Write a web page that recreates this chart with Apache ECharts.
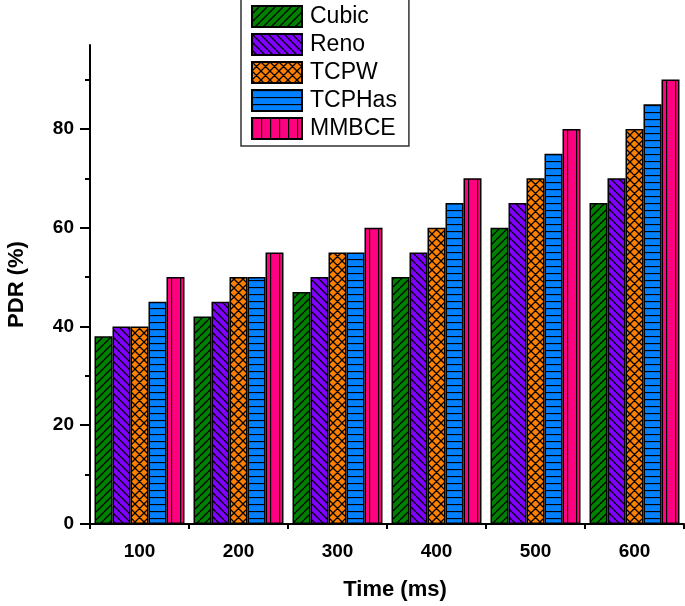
<!DOCTYPE html>
<html>
<head>
<meta charset="utf-8">
<script src="https://cdn.jsdelivr.net/npm/echarts@6/dist/echarts.min.js"></script>
<style>html,body{margin:0;padding:0;background:#fff}#c{width:685px;height:606px}</style>
</head>
<body>
<div id="c"></div>
<script>
const categories = ['100', '200', '300', '400', '500', '600'];
const seriesNames = ['Cubic', 'Reno', 'TCPW', 'TCPHas', 'MMBCE'];
const cubic  = [38, 42, 47, 50, 60, 65];
const reno   = [40, 45, 50, 55, 65, 70];
const tcpw   = [40, 50, 55, 60, 70, 80];
const tcphas = [45, 50, 55, 65, 75, 85];
const mmbce  = [50, 55, 60, 70, 80, 90];
const yTickLabels = [0, 20, 40, 60, 80];
const yMinorTicks = [10, 30, 50, 70, 90];

function pattern(bg, kind) {
  const s = kind === 'h' ? 7 : (kind === 'v' ? 9 : (kind === 'x' ? 9 : 8));
  const c = document.createElement('canvas');
  c.width = s; c.height = s;
  const g = c.getContext('2d');
  g.fillStyle = bg; g.fillRect(0, 0, s, s);
  g.strokeStyle = '#000'; g.lineWidth = 1.3;
  g.beginPath();
  if (kind === 'fwd' || kind === 'x') {
    for (const k of [-s, 0, s]) { g.moveTo(k, s); g.lineTo(k + s, 0); }
  }
  if (kind === 'back' || kind === 'x') {
    for (const k of [-s, 0, s]) { g.moveTo(k, 0); g.lineTo(k + s, s); }
  }
  if (kind === 'h') { g.moveTo(0, 0.5); g.lineTo(s, 0.5); }
  if (kind === 'v') { g.moveTo(0.5, 0); g.lineTo(0.5, s); }
  g.stroke();
  return { image: c, repeat: 'repeat' };
}

const fills = [
  pattern('#008000', 'fwd'),
  pattern('#8000FF', 'back'),
  pattern('#FF8000', 'x'),
  pattern('#0080FF', 'h'),
  pattern('#FF0080', 'v')
];
const values = [cubic, reno, tcpw, tcphas, mmbce];
const font = 'Arial, "Liberation Sans", sans-serif';

const chart = echarts.init(document.getElementById('c'), null, { renderer: 'canvas' });
chart.setOption({
  animation: false,
  backgroundColor: '#fff',
  grid: { left: 90, right: 1, top: 45, bottom: 82, containLabel: false, outerBoundsMode: 'none' },
  legend: {
    orient: 'vertical',
    left: 241, top: -2,
    padding: [7, 12, 6, 10],
    icon: 'rect',
    itemWidth: 50, itemHeight: 21, itemGap: 5,
    borderColor: '#333', borderWidth: 1.5,
    backgroundColor: '#fff',
    textStyle: { fontFamily: font, fontSize: 23, lineHeight: 21, color: '#000', padding: [0, 0, 0, 3] },
    data: seriesNames
  },
  xAxis: [{
    type: 'category', data: categories, position: 'bottom',
    name: 'Time (ms)', nameLocation: 'middle', nameGap: 55,
    nameTextStyle: { fontFamily: font, fontSize: 22, fontWeight: 'bold', color: '#000', padding: [0, 0, 0, 16] },
    axisLine: { lineStyle: { color: '#000', width: 2 } },
    axisTick: { alignWithLabel: true, length: 10, lineStyle: { color: '#000', width: 2 } },
    axisLabel: { fontFamily: font, fontSize: 19, fontWeight: 'bold', color: '#000', margin: 18 },
    splitLine: { show: false }
  }, {
    type: 'category', data: categories, position: 'bottom',
    axisLine: { show: false },
    axisTick: { show: true, interval: 0, length: 5, lineStyle: { color: '#000', width: 2 } },
    axisLabel: { show: false },
    splitLine: { show: false }
  }],
  yAxis: [{
    type: 'value', min: 0, max: 97, interval: 20, position: 'left',
    name: 'PDR (%)', nameLocation: 'middle', nameGap: 62,
    nameTextStyle: { fontFamily: font, fontSize: 22, fontWeight: 'bold', color: '#000' },
    axisLine: { show: true, lineStyle: { color: '#000', width: 2 } },
    axisTick: { show: true, length: 10, customValues: yTickLabels, lineStyle: { color: '#000', width: 2 } },
    axisLabel: { fontFamily: font, fontSize: 19, fontWeight: 'bold', color: '#000', margin: 16, customValues: yTickLabels },
    splitLine: { show: false }
  }, {
    type: 'value', min: 0, max: 97, interval: 10, position: 'left',
    axisLine: { show: false },
    axisTick: { show: true, length: 5, customValues: yMinorTicks, lineStyle: { color: '#000', width: 2 } },
    axisLabel: { show: false },
    splitLine: { show: false }
  }],
  series: seriesNames.map((n, i) => ({
    name: n, type: 'bar', xAxisIndex: 0, yAxisIndex: 0,
    data: values[i],
    barWidth: 18, barGap: '0%',
    itemStyle: { color: fills[i], borderColor: '#000', borderWidth: 1.5 }
  }))
});
</script>
</body>
</html>
